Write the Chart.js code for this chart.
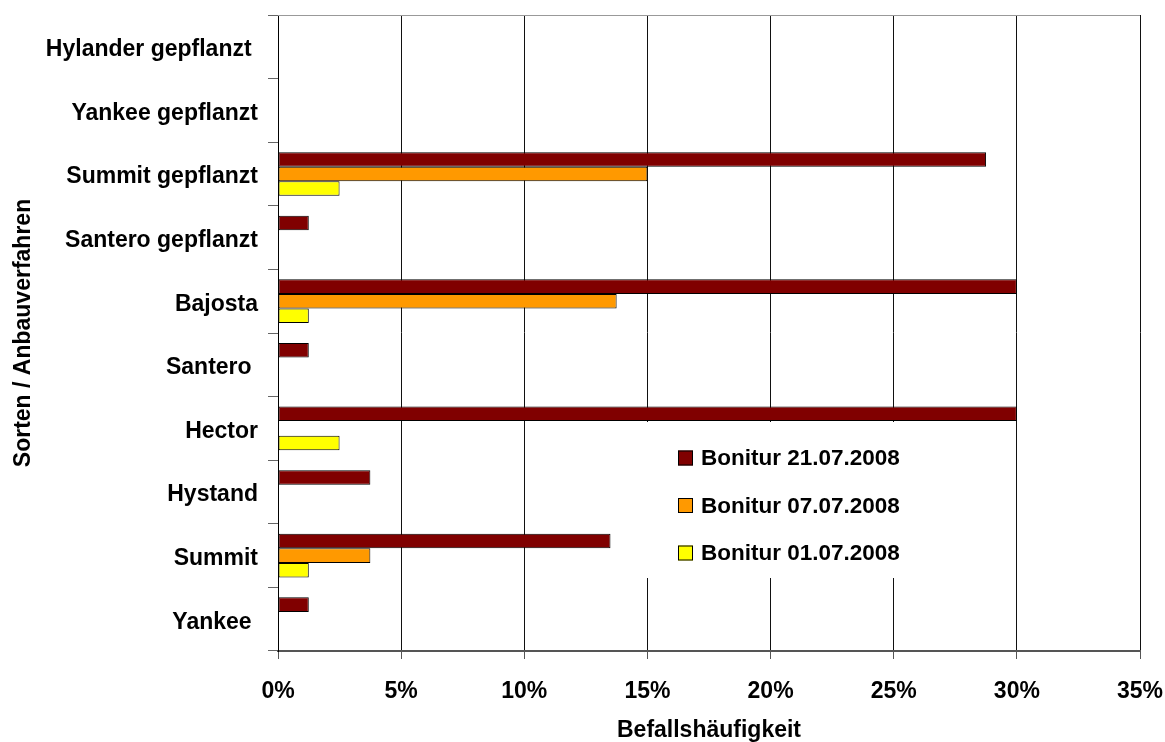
<!DOCTYPE html>
<html>
<head>
<meta charset="utf-8">
<script src="https://cdn.jsdelivr.net/npm/chart.js@4"></script>
<style>
  body { margin: 0; background: #fff; }
</style>
</head>
<body>
<canvas id="chart" width="1165" height="742"></canvas>
<script>
// categories, top to bottom (trailing spaces as in the original labels)
const sorten = [
  "Hylander gepflanzt ", "Yankee gepflanzt", "Summit gepflanzt", "Santero gepflanzt",
  "Bajosta", "Santero ", "Hector", "Hystand", "Summit", "Yankee "
];

// Befallshäufigkeit in %
const bonitur2107 = [null, null, 28.75, 1.25, 30, 1.25, 30, 3.75, 13.5, 1.25];
const bonitur0707 = [null, null, 15, null, 13.75, null, null, null, 3.75, null];
const bonitur0107 = [null, null, 2.5, null, 1.25, null, 2.5, null, 1.25, null];

const xTicks = [0, 5, 10, 15, 20, 25, 30, 35];

const FONT = { family: "'Liberation Sans', Arial, sans-serif", size: 23, weight: "bold" };

Chart.defaults.color = "#000";

/* -------------------------------
   legend box inside the plot + top border
--------------------------------*/
const plotExtras = {
  id: "plotExtras",
  beforeDatasetsDraw(chart) {
    const { ctx, chartArea: a } = chart;

    // top border of plot area
    ctx.save();
    ctx.strokeStyle = "#999";
    ctx.lineWidth = 1;
    ctx.beginPath();
    ctx.moveTo(a.left, a.top + 0.5);
    ctx.lineTo(a.right, a.top + 0.5);
    ctx.stroke();

    // legend
    const x0 = a.left + 362, y0 = a.top + 407;
    ctx.fillStyle = "#fff";
    ctx.fillRect(x0, y0, 355, 156);

    ctx.font = `${FONT.weight} 22.5px ${FONT.family}`;
    ctx.textBaseline = "middle";
    chart.data.datasets.forEach((ds, i) => {
      const y = y0 + 36 + i * 47.5;
      ctx.fillStyle = ds.backgroundColor;
      ctx.fillRect(x0 + 38, y - 7.5, 15, 15);
      ctx.strokeStyle = "#000";
      ctx.strokeRect(x0 + 38.5, y - 7, 14, 14);
      ctx.fillStyle = "#000";
      ctx.fillText(ds.label, x0 + 61, y + 1);
    });
    ctx.restore();
  }
};

new Chart(document.getElementById("chart"), {
  type: "bar",
  data: {
    labels: sorten,
    datasets: [
      { label: "Bonitur 21.07.2008", data: bonitur2107, backgroundColor: "#800000" },
      { label: "Bonitur 07.07.2008", data: bonitur0707, backgroundColor: "#FF9900" },
      { label: "Bonitur 01.07.2008", data: bonitur0107, backgroundColor: "#FFFF00" }
    ]
  },
  options: {
    indexAxis: "y",
    responsive: false,
    animation: false,
    layout: { padding: { top: 15, right: 25, left: 0, bottom: 0 } },
    datasets: {
      bar: {
        categoryPercentage: 0.687,
        barPercentage: 1,
        borderWidth: 1,
        borderColor: "#000",
        borderSkipped: false
      }
    },
    plugins: {
      legend: { display: false },
      tooltip: { enabled: false }
    },
    scales: {
      x: {
        min: 0,
        max: 35,
        afterBuildTicks: s => { s.ticks = xTicks.map(v => ({ value: v })); },
        ticks: { callback: v => v + "%", font: FONT, padding: 19, maxRotation: 0 },
        grid: { color: "#111", tickLength: 8, tickColor: "#555" },
        border: { color: "#555", width: 2 },
        title: {
          display: true, text: "Befallshäufigkeit",
          font: { ...FONT, lineHeight: 1 }, padding: { top: 0, bottom: 0 }
        },
        afterFit: s => { s.height = 91; s.paddingLeft = 0; s.paddingRight = 0; }
      },
      y: {
        grid: { drawOnChartArea: false, tickLength: 10, tickColor: "#666" },
        border: { color: "#000" },
        ticks: { font: FONT, padding: 10, labelOffset: 3 },
        title: {
          display: true, text: "Sorten / Anbauverfahren",
          font: FONT, padding: { top: 10, bottom: 4 }
        },
        afterFit: s => { s.width = 278; s.paddingTop = 0; s.paddingBottom = 0; }
      }
    }
  },
  plugins: [plotExtras]
});
</script>
</body>
</html>
